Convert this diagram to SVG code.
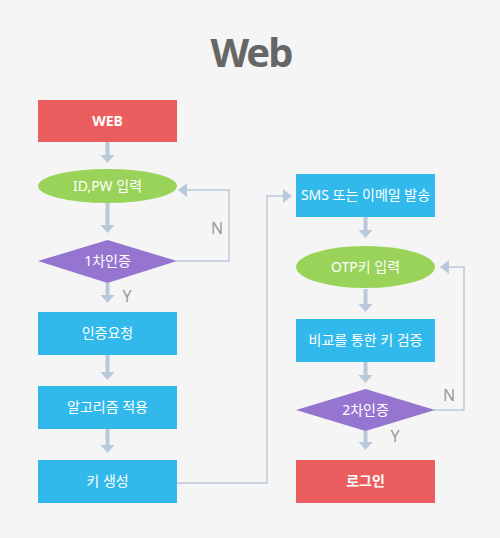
<svg xmlns="http://www.w3.org/2000/svg" width="500" height="538" viewBox="0 0 500 538">
<defs>
<style>
.bg{fill:#f5f5f5}
.red{fill:#eb5d5e}
.blue{fill:#31b9ec}
.green{fill:#99d359}
.purple{fill:#9675d1}
.arr{fill:#b9c9dc}
.line{fill:none;stroke:#b9c9dc;stroke-width:1.5}
.t{fill:#fff;font-family:"Noto Sans","Noto Sans CJK KR",sans-serif;font-size:14px;text-anchor:middle}
.b{font-weight:bold}
.lbl{fill:#999;font-family:"Noto Sans","Noto Sans CJK KR",sans-serif;font-size:16px;text-anchor:middle}
.title{fill:#666;font-family:"Noto Sans","Noto Sans CJK KR",sans-serif;font-size:40px;font-weight:bold;text-anchor:middle;letter-spacing:-2px}
</style>
</defs>
<rect class="bg" x="0" y="0" width="500" height="538"/>
<text class="title" x="251" y="67">Web</text>
<g id="connectors">
<path class="arr" d="M105.5,142 h4 v13 h5 l-7,8 l-7,-8 h5 z"/>
<path class="arr" d="M105.5,203 h4 v22 h5 l-7,8 l-7,-8 h5 z"/>
<path class="arr" d="M105.5,283 h4 v12 h5 l-7,8 l-7,-8 h5 z"/>
<path class="arr" d="M105.5,355 h4 v17 h5 l-7,8 l-7,-8 h5 z"/>
<path class="arr" d="M105.5,429 h4 v16 h5 l-7,8 l-7,-8 h5 z"/>
<path class="arr" d="M363.5,217 h4 v13 h5 l-7,8 l-7,-8 h5 z"/>
<path class="arr" d="M363.5,289 h4 v15 h5 l-7,8 l-7,-8 h5 z"/>
<path class="arr" d="M363.5,362 h4 v13 h5 l-7,8 l-7,-8 h5 z"/>
<path class="arr" d="M363.5,431 h4 v11 h5 l-7,8 l-7,-8 h5 z"/>
<path class="line" d="M176,261 H229 V190 H187"/>
<path class="arr" d="M178,190 l9,-7 v14 z"/>
<path class="line" d="M177,483 H267 V196 H284"/>
<path class="arr" d="M292,196 l-9,-7 v14 z"/>
<path class="line" d="M434,410 H464 V267 H448"/>
<path class="arr" d="M440,267 l9,-7 v14 z"/>
<text class="lbl" x="217" y="234">N</text>
<text class="lbl" x="127" y="302">Y</text>
<text class="lbl" x="449" y="401">N</text>
<text class="lbl" x="395" y="442">Y</text>
</g>
<g id="n-web"><rect class="red" x="38" y="100" width="139" height="42"/><text class="t b" x="107.5" y="126">WEB</text></g>
<g id="n-idpw"><ellipse class="green" cx="107.5" cy="186" rx="69.5" ry="17"/><text class="t" x="107.5" y="191">ID,PW 입력</text></g>
<g id="n-auth1"><polygon class="purple" points="38,261 107.5,240 177,261 107.5,283"/><text class="t" x="107.5" y="266">1차인증</text></g>
<g id="n-req"><rect class="blue" x="38" y="312" width="139" height="43"/><text class="t" x="107.5" y="338">인증요청</text></g>
<g id="n-algo"><rect class="blue" x="38" y="386" width="139" height="43"/><text class="t" x="107.5" y="412">알고리즘 적용</text></g>
<g id="n-key"><rect class="blue" x="38" y="460" width="139" height="43"/><text class="t" x="107.5" y="486">키 생성</text></g>
<g id="n-sms"><rect class="blue" x="296" y="174" width="139" height="43"/><text class="t" x="365.5" y="200">SMS 또는 이메일 발송</text></g>
<g id="n-otp"><ellipse class="green" cx="365.5" cy="267" rx="69.5" ry="21"/><text class="t" x="365.5" y="272">OTP키 입력</text></g>
<g id="n-cmp"><rect class="blue" x="296" y="319" width="139" height="43"/><text class="t" x="365.5" y="345">비교를 통한 키 검증</text></g>
<g id="n-auth2"><polygon class="purple" points="296,410 365.5,389 435,410 365.5,431"/><text class="t" x="365.5" y="415">2차인증</text></g>
<g id="n-login"><rect class="red" x="296" y="460" width="139" height="43"/><text class="t b" x="365.5" y="486">로그인</text></g>
</svg>
